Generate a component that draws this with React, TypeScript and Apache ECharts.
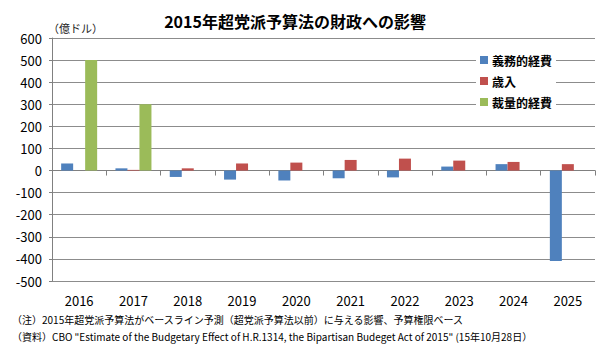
import React, { useEffect, useRef } from "react";
import * as echarts from "echarts";

const categories = ["2016", "2017", "2018", "2019", "2020", "2021", "2022", "2023", "2024", "2025"];
const mandatory = [32, 10, -29, -41, -45, -35, -31, 18, 29, -410];
const revenue = [null, 3, 10, 32, 36, 48, 54, 45, 39, 29];
const discretionary = [500, 300, null, null, null, null, null, null, null, null];
const seriesNames = ["義務的経費", "歳入", "裁量的経費"];
const title = "2015年超党派予算法の財政への影響";
const unit = "（億ドル）";
const note1 = "（注）2015年超党派予算法がベースライン予測（超党派予算法以前）に与える影響、予算権限ベース";
const note2 = "（資料）CBO \"Estimate of the Budgetary Effect of H.R.1314, the Bipartisan Budeget Act of 2015\" (15年10月28日）";

const FONT = "'Noto Sans CJK JP', 'Noto Sans', sans-serif";

export default function App() {
  const ref = useRef<HTMLDivElement>(null);
  useEffect(() => {
    if (!ref.current) return;
    const chart = echarts.init(ref.current, null, { renderer: "svg" });
    chart.setOption({
      animation: false,
      backgroundColor: "#fff",
      textStyle: { fontFamily: FONT },
      title: {
        text: title,
        left: 290,
        textAlign: "center",
        top: 8,
        textStyle: { fontFamily: FONT, fontSize: 16, fontWeight: "bold", color: "#000" },
      },
      graphic: [
        { type: "text", left: 48, top: 22, style: { text: unit, fontFamily: FONT, fontSize: 11, fill: "#222" } },
        { type: "text", left: 12, top: 314, style: { text: note1, fontFamily: FONT, fontSize: 10, fill: "#000" } },
        { type: "text", left: 12, top: 331, style: { text: note2, fontFamily: FONT, fontSize: 10, fill: "#000" } },
      ],
      legend: {
        orient: "vertical",
        left: 476,
        top: 52,
        itemWidth: 8,
        itemHeight: 8,
        itemGap: 9,
        icon: "rect",
        backgroundColor: "#fff",
        padding: [2, 4, 2, 4],
        textStyle: { fontFamily: FONT, fontSize: 12, color: "#000", fontWeight: "bold", padding: [0, 0, 0, -1] },
        data: seriesNames,
      },
      grid: { left: 52, right: 17, top: 38, bottom: 78, containLabel: false },
      xAxis: [
        {
          type: "category",
          data: categories,
          axisLine: { onZero: true, lineStyle: { color: "#808080", width: 1 } },
          axisTick: { show: true, length: 5, lineStyle: { color: "#808080" } },
          axisLabel: { show: false },
        },
        {
          type: "category",
          data: categories,
          position: "bottom",
          axisLine: { show: false },
          axisTick: { show: false },
          axisLabel: { show: true, fontFamily: FONT, fontSize: 13, color: "#000", margin: 13 },
        },
      ],
      yAxis: {
        type: "value",
        min: -500,
        max: 600,
        interval: 100,
        axisLine: { show: true, lineStyle: { color: "#808080" } },
        axisTick: { show: true, length: 3, lineStyle: { color: "#808080" } },
        axisLabel: { fontFamily: FONT, fontSize: 13, color: "#000", margin: 10 },
        splitLine: { show: true, lineStyle: { color: "#8c8c8c", width: 1 } },
      },
      series: [
        { name: seriesNames[0], type: "bar", data: mandatory, itemStyle: { color: "#4F81BD" }, barWidth: 12, barGap: "0%", barCategoryGap: "33%" },
        { name: seriesNames[1], type: "bar", data: revenue, itemStyle: { color: "#C0504D" }, barWidth: 12, barGap: "0%" },
        { name: seriesNames[2], type: "bar", data: discretionary, itemStyle: { color: "#9BBB59" }, barWidth: 12, barGap: "0%" },
      ],
    });
    return () => chart.dispose();
  }, []);
  return <div ref={ref} style={{ width: 612, height: 359, margin: -8 }} />;
}
